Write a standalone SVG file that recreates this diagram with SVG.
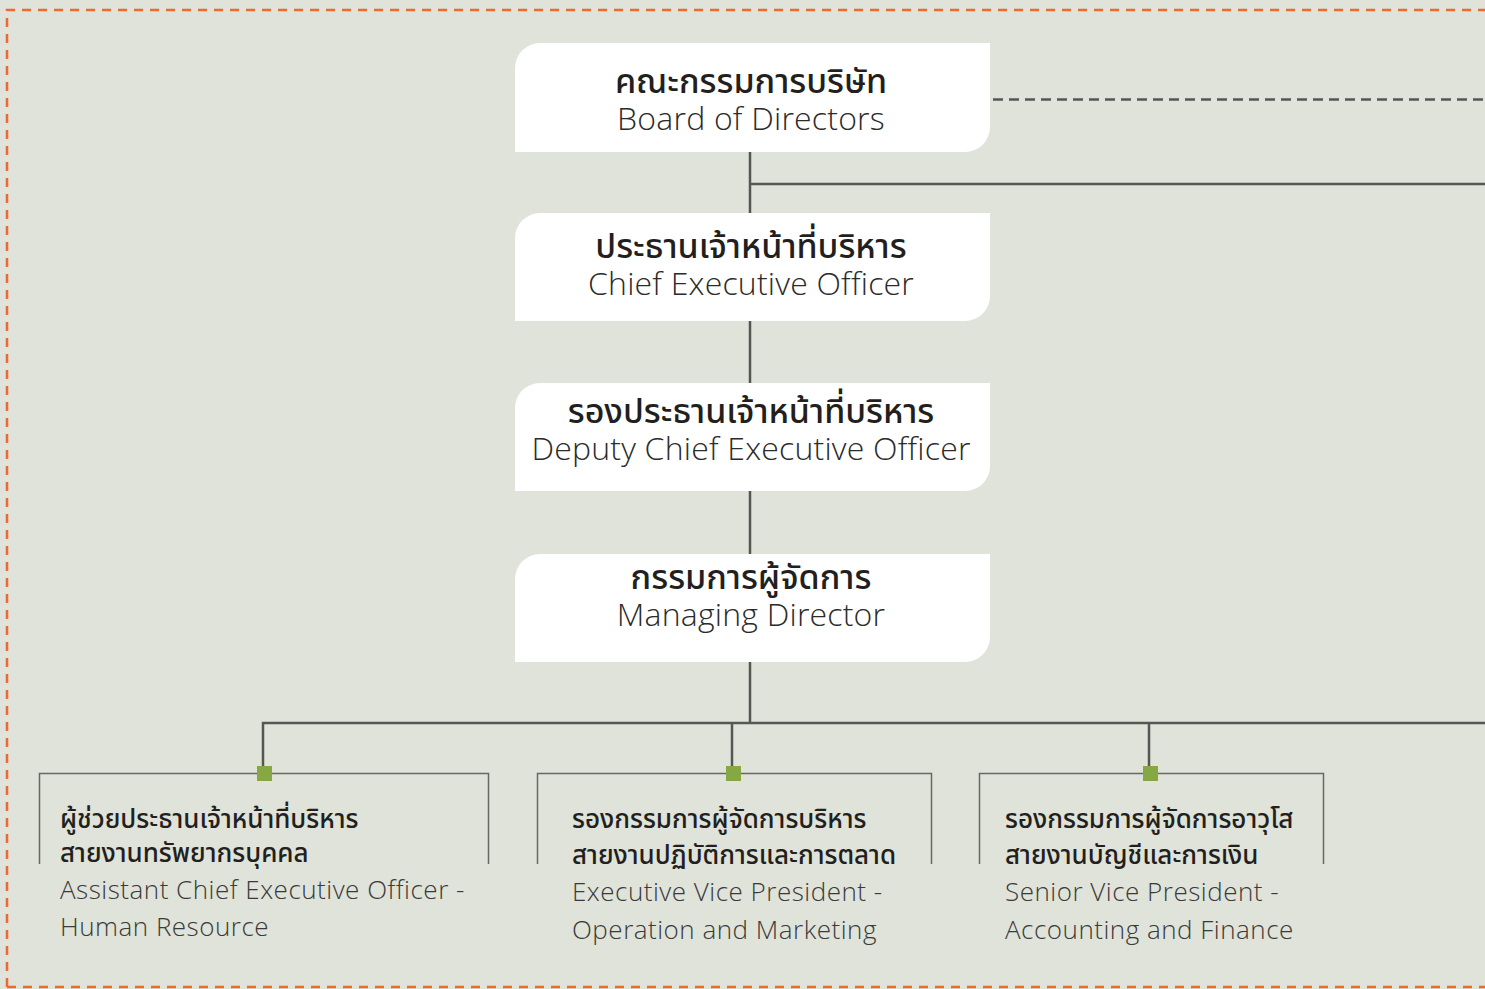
<svg xmlns="http://www.w3.org/2000/svg" width="1485" height="989" viewBox="0 0 1485 989">
<style>
.bg{fill:#dfe3d9}
.frame{fill:none;stroke:#ec6a2c;stroke-width:2.5;stroke-dasharray:9 7}
.card{fill:#ffffff}
.th{font-family:"Noto Sans Thai","Noto Sans","Noto Sans CJK SC",sans-serif;font-weight:500;fill:#231f20;text-anchor:middle;font-size:34px}
.en{font-family:"Open Sans","Noto Sans",sans-serif;font-weight:300;fill:#2b2b2b;text-anchor:middle;letter-spacing:0.2px;font-size:32px}
.ths{font-family:"Noto Sans Thai","Noto Sans","Noto Sans CJK SC",sans-serif;font-weight:500;fill:#231f20;font-size:26px}
.ens{font-family:"Open Sans","Noto Sans",sans-serif;font-weight:300;fill:#3a3a3a;font-size:26px;letter-spacing:0.5px}
.line{fill:none;stroke:#555755;stroke-width:2.5}
.dash{fill:none;stroke:#555755;stroke-width:2.5;stroke-dasharray:10 6}
.bracket{fill:none;stroke:#666866;stroke-width:1.5}
.dot{fill:#86a843}
</style>
<rect class="bg" x="0" y="0" width="1485" height="989"/>
<path class="frame" d="M7 987 L7 10 L1485 10 M7 987 L1485 987"/>

<g id="connectors">
<line class="dash" x1="993" y1="99.5" x2="1485" y2="99.5"/>
<line class="line" x1="750" y1="152" x2="750" y2="723"/>
<line class="line" x1="750" y1="184" x2="1485" y2="184"/>
<path class="line" d="M263 767 L263 723 L1485 723"/>
<line class="line" x1="732" y1="723" x2="732" y2="767"/>
<line class="line" x1="1149" y1="723" x2="1149" y2="767"/>
</g>

<g id="board">
<path class="card" d="M540 43 L990 43 L990 127 A25 25 0 0 1 965 152 L515 152 L515 68 A25 25 0 0 1 540 43 Z"/>
<text class="th" x="751" y="93">คณะกรรมการบริษัท</text>
<text class="en" x="751" y="130">Board of Directors</text>
</g>

<g id="ceo">
<path class="card" d="M540 213 L990 213 L990 296 A25 25 0 0 1 965 321 L515 321 L515 238 A25 25 0 0 1 540 213 Z"/>
<text class="th" x="751" y="258">ประธานเจ้าหน้าที่บริหาร</text>
<text class="en" x="751" y="295">Chief Executive Officer</text>
</g>

<g id="deputy">
<path class="card" d="M540 383 L990 383 L990 466 A25 25 0 0 1 965 491 L515 491 L515 408 A25 25 0 0 1 540 383 Z"/>
<text class="th" x="751" y="423">รองประธานเจ้าหน้าที่บริหาร</text>
<text class="en" x="751" y="460">Deputy Chief Executive Officer</text>
</g>

<g id="md">
<path class="card" d="M540 554 L990 554 L990 637 A25 25 0 0 1 965 662 L515 662 L515 579 A25 25 0 0 1 540 554 Z"/>
<text class="th" x="751" y="589">กรรมการผู้จัดการ</text>
<text class="en" x="751" y="626">Managing Director</text>
</g>

<g id="hr">
<path class="bracket" d="M39.5 864 L39.5 773.5 L488.5 773.5 L488.5 864"/>
<rect class="dot" x="257" y="766" width="15" height="15"/>
<text class="ths" x="60" y="828">ผู้ช่วยประธานเจ้าหน้าที่บริหาร</text>
<text class="ths" x="60" y="862">สายงานทรัพยากรบุคคล</text>
<text class="ens" x="60" y="899">Assistant Chief Executive Officer -</text>
<text class="ens" x="60" y="936">Human Resource</text>
</g>

<g id="operation">
<path class="bracket" d="M537.5 864 L537.5 773.5 L931.5 773.5 L931.5 864"/>
<rect class="dot" x="726" y="766" width="15" height="15"/>
<text class="ths" x="572" y="828">รองกรรมการผู้จัดการบริหาร</text>
<text class="ths" x="572" y="864">สายงานปฏิบัติการและการตลาด</text>
<text class="ens" x="572" y="901">Executive Vice President -</text>
<text class="ens" x="572" y="939">Operation and Marketing</text>
</g>

<g id="finance">
<path class="bracket" d="M979.5 864 L979.5 773.5 L1323.5 773.5 L1323.5 864"/>
<rect class="dot" x="1143" y="766" width="15" height="15"/>
<text class="ths" x="1005" y="828">รองกรรมการผู้จัดการอาวุโส</text>
<text class="ths" x="1005" y="864">สายงานบัญชีและการเงิน</text>
<text class="ens" x="1005" y="901">Senior Vice President -</text>
<text class="ens" x="1005" y="939">Accounting and Finance</text>
</g>
</svg>
